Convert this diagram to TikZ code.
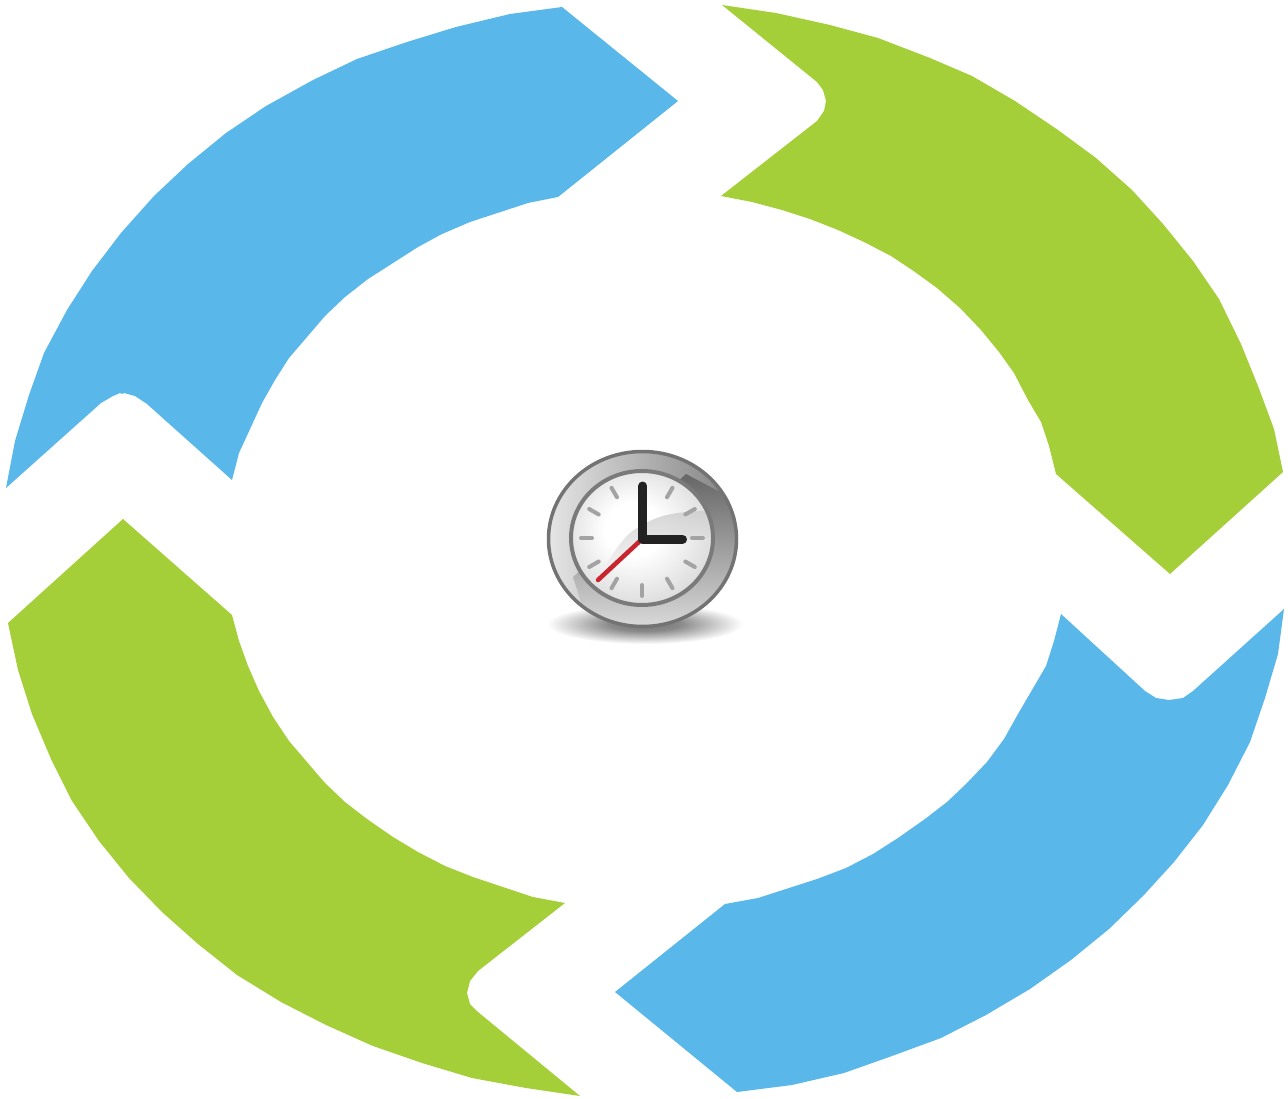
\documentclass[tikz,border=0pt]{standalone}
\definecolor{arrowblue}{HTML}{59B7E9}
\definecolor{arrowgreen}{HTML}{A4CF39}
\definecolor{handblack}{HTML}{222222}
\definecolor{handred}{HTML}{C9252F}
\pgfdeclareradialshading{softshadow}{\pgfpoint{0bp}{0bp}}{color(0bp)=(black!55);color(9bp)=(black!46);color(25bp)=(white);color(50bp)=(white)}
\pgfdeclareradialshading{softface}{\pgfpoint{-4bp}{4bp}}{color(0bp)=(white);color(10bp)=(white);color(29bp)=(black!15);color(50bp)=(black!15)}
\tikzset{
  bluearrow/.style={fill=arrowblue,draw=none},
  greenarrow/.style={fill=arrowgreen,draw=none},
  clocktick/.style={draw=black!36,line width=4pt,line cap=round},
  clockhand/.style={draw=handblack,line width=9pt,line cap=round},
}
\begin{document}
\begin{tikzpicture}[x=1pt,y=-1pt,line join=round]
\useasboundingbox (0,0) rectangle (1288,1099);
% upper left arrow
\path[bluearrow] (562,7) -- (678,101) -- (558,197) -- (528,203) -- (470,222) -- (442,234) -- (418,247)
  -- (368,279) -- (345,297) -- (325,316) -- (289,358) -- (275,380) -- (262,403) -- (239,453) -- (232,480)
  -- (147,404) -- (135,396) -- (124,393) -- (122,394) -- (120,393) -- (113,396) -- (101,403) -- (6,488)
  -- (15,441) -- (29,395) -- (44,353) -- (67,310) -- (92,271) -- (121,233) -- (154,196) -- (188,164)
  -- (226,133) -- (266,106) -- (313,80) -- (357,59) -- (407,42) -- (456,27) -- (510,14) -- cycle;
% upper right arrow
\path[greenarrow] (722,5) -- (776,13) -- (830,25) -- (878,38) -- (930,58) -- (972,76) -- (1015,101)
  -- (1058,130) -- (1096,158) -- (1132,190) -- (1163,224) -- (1193,261) -- (1219,299) -- (1241,344)
  -- (1258,386) -- (1274,429) -- (1283,472) -- (1170,574) -- (1056,474) -- (1049,446) -- (1041,422)
  -- (1028,400) -- (1014,373) -- (999,352) -- (981,330) -- (960,308) -- (937,288) -- (915,272) -- (891,256)
  -- (864,242) -- (838,230) -- (810,219) -- (782,210) -- (752,202) -- (721,196) -- (817,121) -- (824,111)
  -- (826,101) -- (823,90) -- (817,82) -- cycle;
% lower left arrow
\path[greenarrow] (123,519) -- (232,615) -- (239,641) -- (248,666) -- (259,691) -- (273,717) -- (289,741)
  -- (325,783) -- (345,802) -- (367,819) -- (393,837) -- (418,852) -- (445,866) -- (473,877) -- (533,897)
  -- (565,903) -- (478,971) -- (470,981) -- (467,993) -- (470,1004) -- (478,1012) -- (580,1096) -- (526,1088)
  -- (472,1078) -- (422,1063) -- (373,1046) -- (326,1025) -- (281,1002) -- (237,975) -- (198,944) -- (162,912)
  -- (129,878) -- (99,841) -- (72,801) -- (51,759) -- (32,714) -- (18,670) -- (8,623) -- cycle;
% lower right arrow
\path[bluearrow] (1284,609) -- (1278,654) -- (1265,698) -- (1250,742) -- (1228,785) -- (1203,825) -- (1174,862)
  -- (1143,896) -- (1109,929) -- (1071,960) -- (1030,989) -- (986,1015) -- (941,1038) -- (892,1056) -- (844,1073)
  -- (792,1085) -- (737,1092) -- (615,992) -- (725,904) -- (758,898) -- (817,879) -- (846,868) -- (873,854)
  -- (898,838) -- (925,819) -- (947,802) -- (966,784) -- (987,762) -- (1004,739) -- (1018,714) -- (1032,690)
  -- (1046,666) -- (1054,641) -- (1061,614) -- (1145,691) -- (1156,698) -- (1169,700) -- (1183,698) -- (1193,691) -- cycle;
% clock shadow
\shade[shading=softshadow] (645,624) ellipse (98 and 20);
% clock ring
\shade[left color=black!10,right color=black!50] (642.5,539) ellipse (95 and 88.5);
\begin{scope}
  \clip (642.5,539) ellipse (95 and 88.5);
  \shade[top color=black!60,middle color=black!58,bottom color=black!14] (686,474) -- (718,491) -- (760,491) -- (760,630) -- (590,630) -- (573,577) -- cycle;
\end{scope}
\draw[black!55,line width=3.5pt] (642.5,539) ellipse (94 and 87.5);
% clock face
\shade[shading=softface] (642,538) ellipse (71 and 67);
\begin{scope}
  \clip (642,538) ellipse (71 and 67);
  \shade[top color=black!20,bottom color=black!3,opacity=.8] (598,578) .. controls (612,555) and (625,532) .. (640,527)
    .. controls (660,512) and (685,512) .. (716,510) -- (716,538) -- (642,541) -- cycle;
\end{scope}
\draw[black!52,line width=4pt] (642,538) ellipse (71 and 67);
% hour marks
\foreach \a in {0,30,60,120,150,...,330}
  \draw[clocktick] ({642+50*cos(\a)},{538-47*sin(\a)}) -- ({642+61*cos(\a)},{538-58*sin(\a)});
% hands
\draw[handred,line width=4.5pt,line cap=round] (640,541) -- (598,580);
\draw[clockhand] (642.8,486) -- (642.8,539.3) -- (682.5,539.3);
\end{tikzpicture}
\end{document}
